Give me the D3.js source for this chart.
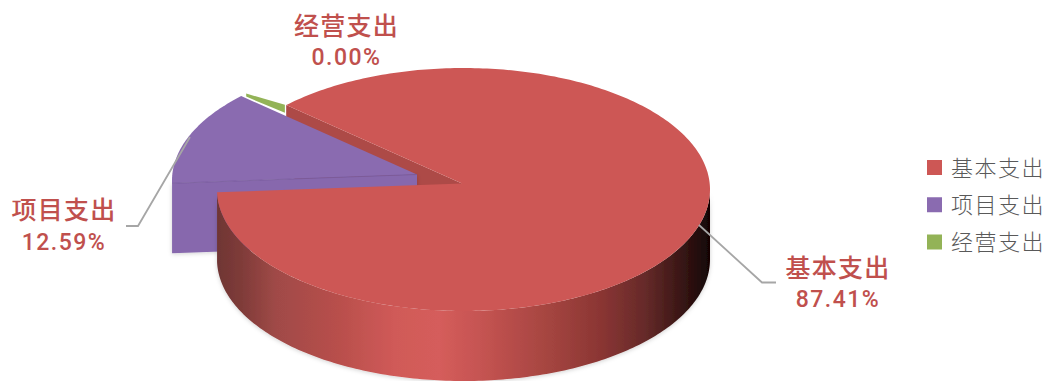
<!DOCTYPE html>
<html>
<head>
<meta charset="utf-8">
<script src="https://cdn.jsdelivr.net/npm/d3@7/dist/d3.min.js"></script>
<style>
  html, body { margin: 0; padding: 0; background: #fff; }
  svg { display: block; }
  text { font-family: "Noto Sans CJK SC", "Noto Sans", sans-serif; }
  .share { font-family: Roboto, "Noto Sans", sans-serif; }
</style>
</head>
<body>
<svg id="chart" width="1050" height="381"></svg>
<script>
// Expenditure breakdown
const categories = ["基本支出", "项目支出", "经营支出"];
const shares = [87.41, 12.59, 0.00];
const colors = ["#cd5755", "#8a6bb0", "#93b357"];
const labelText = shares.map(v => v.toFixed(2) + "%");

const svg = d3.select("#chart");
const defs = svg.append("defs");

// Pie geometry: a tilted disc seen from above
const center = { x: 463.5, y: 189.5 };
const radiusX = 246.5, radiusY = 121.5, depth = 70;
const apexShift = { x: -1.5, y: -6 };            // the tip sits a little behind the disc centre
const pulled = [{ x: 0, y: 0 }, { x: -45, y: -9 }, { x: -40, y: -11.5 }];
const startDeg = 314;

const pie = d3.pie().sort(null).value(d => d)
  .startAngle(startDeg * Math.PI / 180)
  .endAngle((startDeg + 360) * Math.PI / 180);
const slices = pie(shares);

const rim = (a, off, z = 0) => [
  center.x + off.x + radiusX * Math.sin(a),
  center.y + off.y - radiusY * Math.cos(a) + z
];
const apex = (off, z = 0) => [
  center.x + apexShift.x + off.x,
  center.y + apexShift.y + off.y + z
];
const line = d3.line();
const arcAngles = (a0, a1) => {
  const n = Math.max(2, Math.ceil(Math.abs(a1 - a0) * 60));
  return d3.range(n + 1).map(i => a0 + (a1 - a0) * i / n);
};
const topFace = (d, off) =>
  line([apex(off), ...arcAngles(d.startAngle, d.endAngle).map(a => rim(a, off))]) + "Z";
const radialWall = (a, off) =>
  line([rim(a, off), apex(off), apex(off, depth), rim(a, off, depth)]) + "Z";

// Soft contact shadow under the extruded walls
const soft = defs.append("filter").attr("id", "softShadow")
  .attr("x", "-5%").attr("y", "-5%").attr("width", "110%").attr("height", "115%");
soft.append("feDropShadow").attr("dx", 0).attr("dy", 1).attr("stdDeviation", 2)
  .attr("flood-color", "#000").attr("flood-opacity", 0.18);

// Shading along the curved front wall of the large slice
const wallStops = [
  [0, "#6f3634"], [0.05, "#7f3b39"], [0.12, "#a04a47"], [0.25, "#b94f4c"],
  [0.36, "#d05a58"], [0.45, "#d55d5b"], [0.55, "#c25250"], [0.68, "#a3443f"],
  [0.78, "#8a3533"], [0.87, "#652a29"], [0.94, "#3a1615"], [1, "#140505"]
];
const wallGrad = defs.append("linearGradient").attr("id", "wallShade")
  .attr("gradientUnits", "userSpaceOnUse")
  .attr("x1", center.x - radiusX).attr("x2", center.x + radiusX)
  .attr("y1", 0).attr("y2", 0);
wallGrad.selectAll("stop").data(wallStops).join("stop")
  .attr("offset", d => d[0]).attr("stop-color", d => d[1]);

const [main, project, sliver] = slices;

// Cut face of the large slice, seen behind the pulled-out wedge
svg.append("path").attr("d", radialWall(main.startAngle, pulled[0])).attr("fill", "#ad4a47");

// The zero-share slice only shows as a thin edge
const sliverReach = 0.22;
const sliverPoint = (t, z) => {
  const o = rim(sliver.startAngle, pulled[2]), a = apex(pulled[2]);
  return [o[0] + (a[0] - o[0]) * t, o[1] + (a[1] - o[1]) * t + z];
};
svg.append("path")
  .attr("d", line([sliverPoint(0, 0), sliverPoint(sliverReach, -6), sliverPoint(sliverReach, 2), sliverPoint(0, 3)]) + "Z")
  .attr("fill", colors[2]);

// Pulled-out wedge: cut face first, then its top
svg.append("path").attr("d", radialWall(project.startAngle, pulled[1])).attr("fill", "#8768ad")
  .attr("filter", "url(#softShadow)");
svg.append("path").attr("d", topFace(project, pulled[1])).attr("fill", colors[1]);
svg.append("path")
  .attr("d", line([rim(project.startAngle, pulled[1]), apex(pulled[1])]))
  .attr("stroke", "#76599b").attr("stroke-width", 0.8).attr("fill", "none");

// Curved wall and top of the large slice
const frontAngles = arcAngles(Math.PI / 2, main.endAngle - 2 * Math.PI);
svg.append("path")
  .attr("d", line([
    ...frontAngles.map(a => rim(a, pulled[0])),
    ...frontAngles.slice().reverse().map(a => rim(a, pulled[0], depth))
  ]) + "Z")
  .attr("fill", "url(#wallShade)")
  .attr("filter", "url(#softShadow)");
svg.append("path").attr("d", topFace(main, pulled[0])).attr("fill", colors[0]);

// Leader lines
const leaders = [
  [[699, 225], [762, 282.5], [776, 282.5]],
  [[190, 137], [138, 226], [126, 226]]
];
svg.selectAll("path.leader").data(leaders).join("path")
  .attr("class", "leader").attr("d", line).attr("fill", "none")
  .attr("stroke", "#a6a6a6").attr("stroke-width", 1.8);

// Data labels: name on the first line, share on the second
const labelPlace = [
  { x: 838, y: 277, y2: 307 },
  { x: 64, y: 219, y2: 250 },
  { x: 346.5, y: 35, y2: 65 }
];
const labels = svg.selectAll("g.label").data(categories).join("g").attr("class", "label")
  .attr("text-anchor", "middle").attr("fill", "#c0504d");
labels.append("text")
  .attr("x", (d, i) => labelPlace[i].x).attr("y", (d, i) => labelPlace[i].y)
  .attr("font-weight", 500).attr("font-size", 25).attr("letter-spacing", 1.2).text(d => d);
labels.append("text").attr("class", "share")
  .attr("x", (d, i) => labelPlace[i].x).attr("y", (d, i) => labelPlace[i].y2)
  .attr("font-weight", 500).attr("font-size", 23).attr("letter-spacing", 1.5).text((d, i) => labelText[i]);

// Legend
const legendY = d3.scalePoint().domain(categories).range([167.5, 242]);
const legend = svg.selectAll("g.legend").data(categories).join("g").attr("class", "legend")
  .attr("transform", d => `translate(927,${legendY(d)})`);
legend.append("rect").attr("x", 0).attr("y", -7.5).attr("width", 15).attr("height", 15)
  .attr("fill", (d, i) => colors[i]);
legend.append("text").attr("x", 24).attr("y", 8)
  .attr("font-size", 22).attr("font-weight", 300).attr("letter-spacing", 1.5)
  .attr("fill", "#595959").text(d => d);
</script>
</body>
</html>
